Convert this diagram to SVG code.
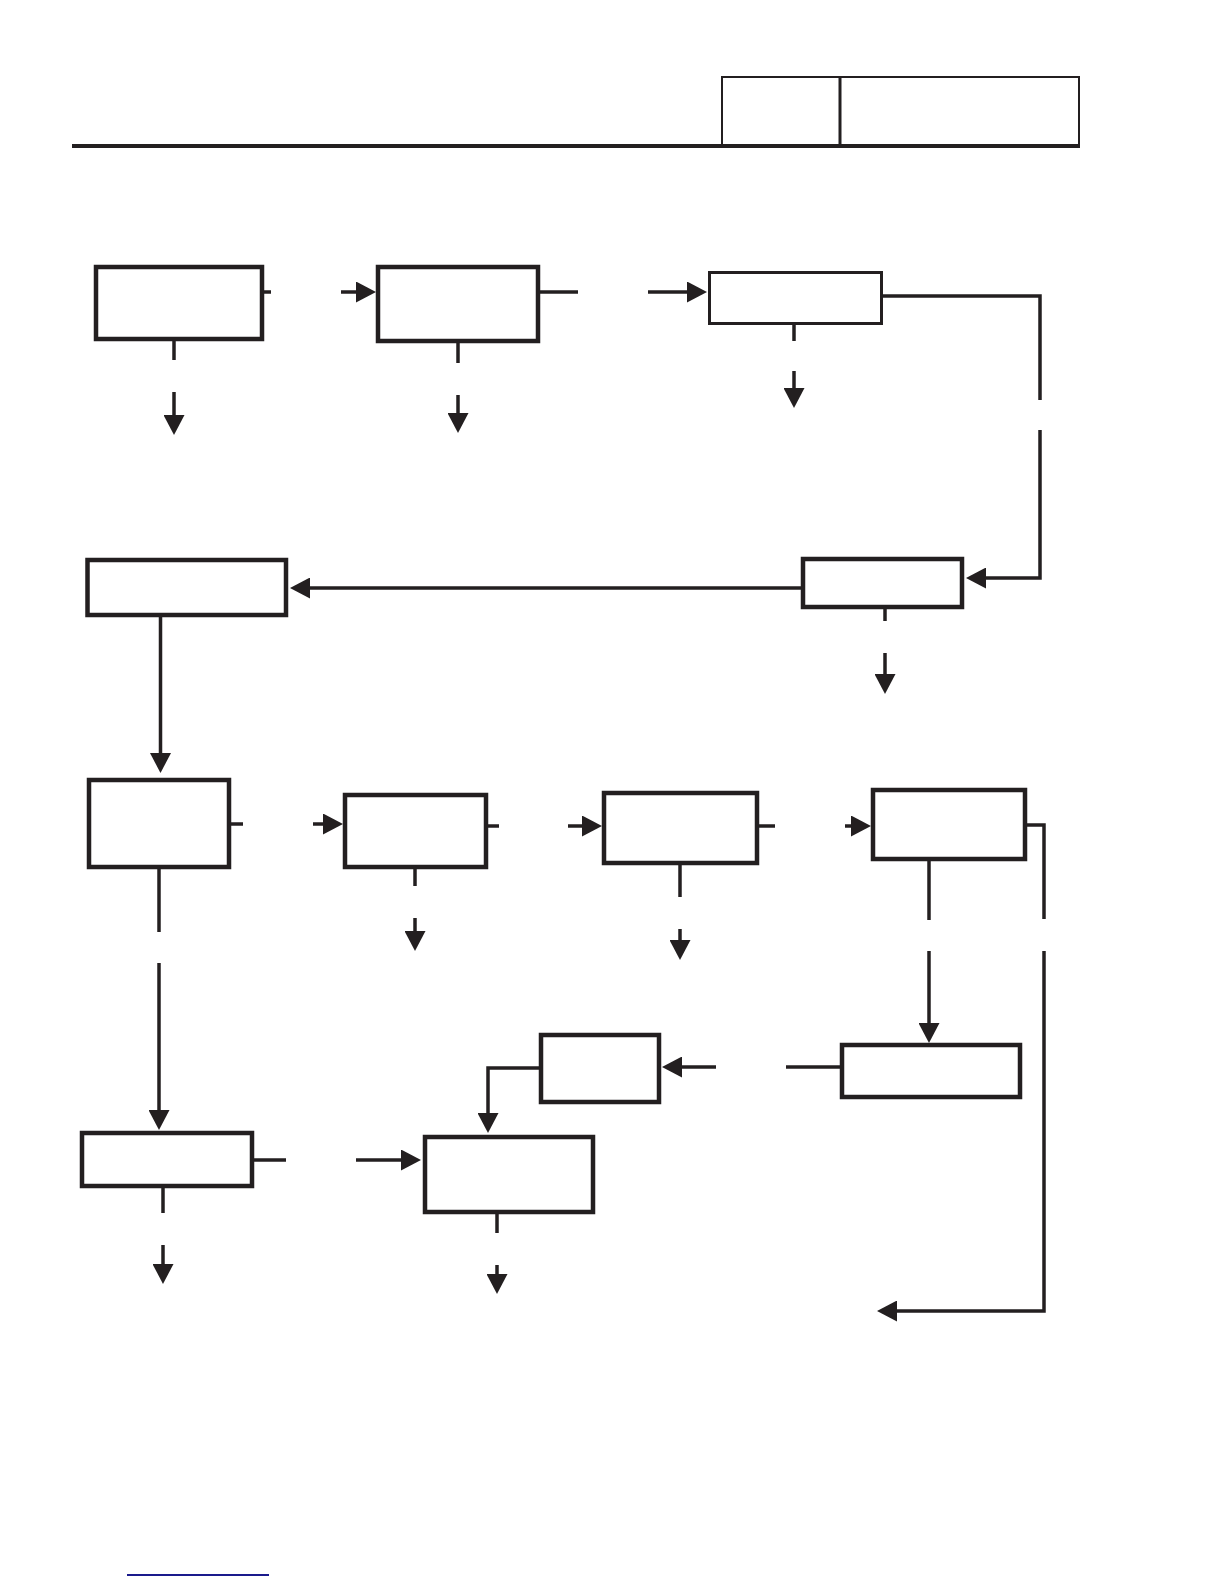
<svg xmlns="http://www.w3.org/2000/svg" width="1224" height="1584" viewBox="0 0 1224 1584">
<style>
.box{fill:#fff;stroke:#231f20;stroke-width:4.5}
.thin{stroke-width:3}
.c{fill:none;stroke:#231f20;stroke-width:3.5}
.a{marker-end:url(#ah)}
.hdr{fill:none;stroke:#231f20}
</style>
<defs>
<marker id="ah" viewBox="0 0 20 21" markerWidth="20" markerHeight="21" markerUnits="userSpaceOnUse" refX="1" refY="10.5" orient="auto">
<path d="M0,0 L20,10.5 L0,21 z" fill="#231f20"/>
</marker>
</defs>
<rect width="1224" height="1584" fill="#fff"/>
<g id="header">
<rect class="hdr" x="722" y="77" width="357" height="69" stroke-width="2"/>
<line class="hdr" x1="840" y1="77" x2="840" y2="146" stroke-width="3"/>
<line class="hdr" x1="72" y1="146" x2="1080" y2="146" stroke-width="4"/>
</g>
<g id="n1"><rect class="box" x="96" y="267" width="166" height="72"/></g>
<g id="n2"><rect class="box" x="378" y="267" width="160" height="74"/></g>
<g id="n3"><rect class="box thin" x="709.5" y="272.5" width="172" height="51"/></g>
<g id="n4"><rect class="box" x="87.5" y="560" width="198.5" height="55"/></g>
<g id="n5"><rect class="box" x="803" y="559" width="159" height="48"/></g>
<g id="n6"><rect class="box" x="89" y="780" width="140" height="87"/></g>
<g id="n7"><rect class="box" x="345" y="795" width="141" height="72"/></g>
<g id="n8"><rect class="box" x="604" y="793" width="153" height="70"/></g>
<g id="n9"><rect class="box" x="873" y="790" width="152" height="69"/></g>
<g id="n10"><rect class="box" x="842" y="1045" width="178" height="52"/></g>
<g id="n11"><rect class="box" x="541" y="1035" width="118" height="67"/></g>
<g id="n12"><rect class="box" x="425" y="1137" width="168" height="75"/></g>
<g id="n13"><rect class="box" x="82" y="1133" width="170" height="53"/></g>
<g id="connectors">
<path class="c" d="M264,292 H271"/>
<path class="c a" d="M341,292 H357"/>
<path class="c" d="M174,341 V360"/>
<path class="c a" d="M174,392 V416"/>
<path class="c" d="M458,343 V363"/>
<path class="c a" d="M458,395 V414"/>
<path class="c" d="M540,292 H578"/>
<path class="c a" d="M648,292 H688"/>
<path class="c" d="M794,325 V341"/>
<path class="c a" d="M794,371 V389"/>
<path class="c" d="M883,296 H1040 V400"/>
<path class="c a" d="M1040,430 V578 H985"/>
<path class="c a" d="M801,588 H309"/>
<path class="c" d="M885,609 V621"/>
<path class="c a" d="M885,653 V675"/>
<path class="c a" d="M160.5,617 V754"/>
<path class="c" d="M231,824 H243"/>
<path class="c a" d="M313,824 H324"/>
<path class="c" d="M159,869 V932"/>
<path class="c a" d="M159,963 V1111"/>
<path class="c" d="M488,826 H499"/>
<path class="c" d="M415,869 V886"/>
<path class="c a" d="M415,918 V932"/>
<path class="c a" d="M568,826 H583"/>
<path class="c" d="M680,865 V897"/>
<path class="c a" d="M680,929 V941"/>
<path class="c" d="M759,826 H775"/>
<path class="c a" d="M845,826 H852"/>
<path class="c" d="M1027,825 H1044 V919"/>
<path class="c a" d="M1044,951 V1311 H896"/>
<path class="c" d="M929,861 V920"/>
<path class="c a" d="M929,951 V1024"/>
<path class="c" d="M840,1067 H786"/>
<path class="c a" d="M716,1067 H681"/>
<path class="c a" d="M539,1068 H488 V1114"/>
<path class="c" d="M254,1160 H286"/>
<path class="c a" d="M356,1160 H402"/>
<path class="c" d="M163,1188 V1213"/>
<path class="c a" d="M163,1245 V1265"/>
<path class="c" d="M497,1214 V1233"/>
<path class="c a" d="M497,1265 V1275"/>
</g>
<line x1="127" y1="1575" x2="269" y2="1575" stroke="#1a1a8c" stroke-width="2"/>
</svg>
